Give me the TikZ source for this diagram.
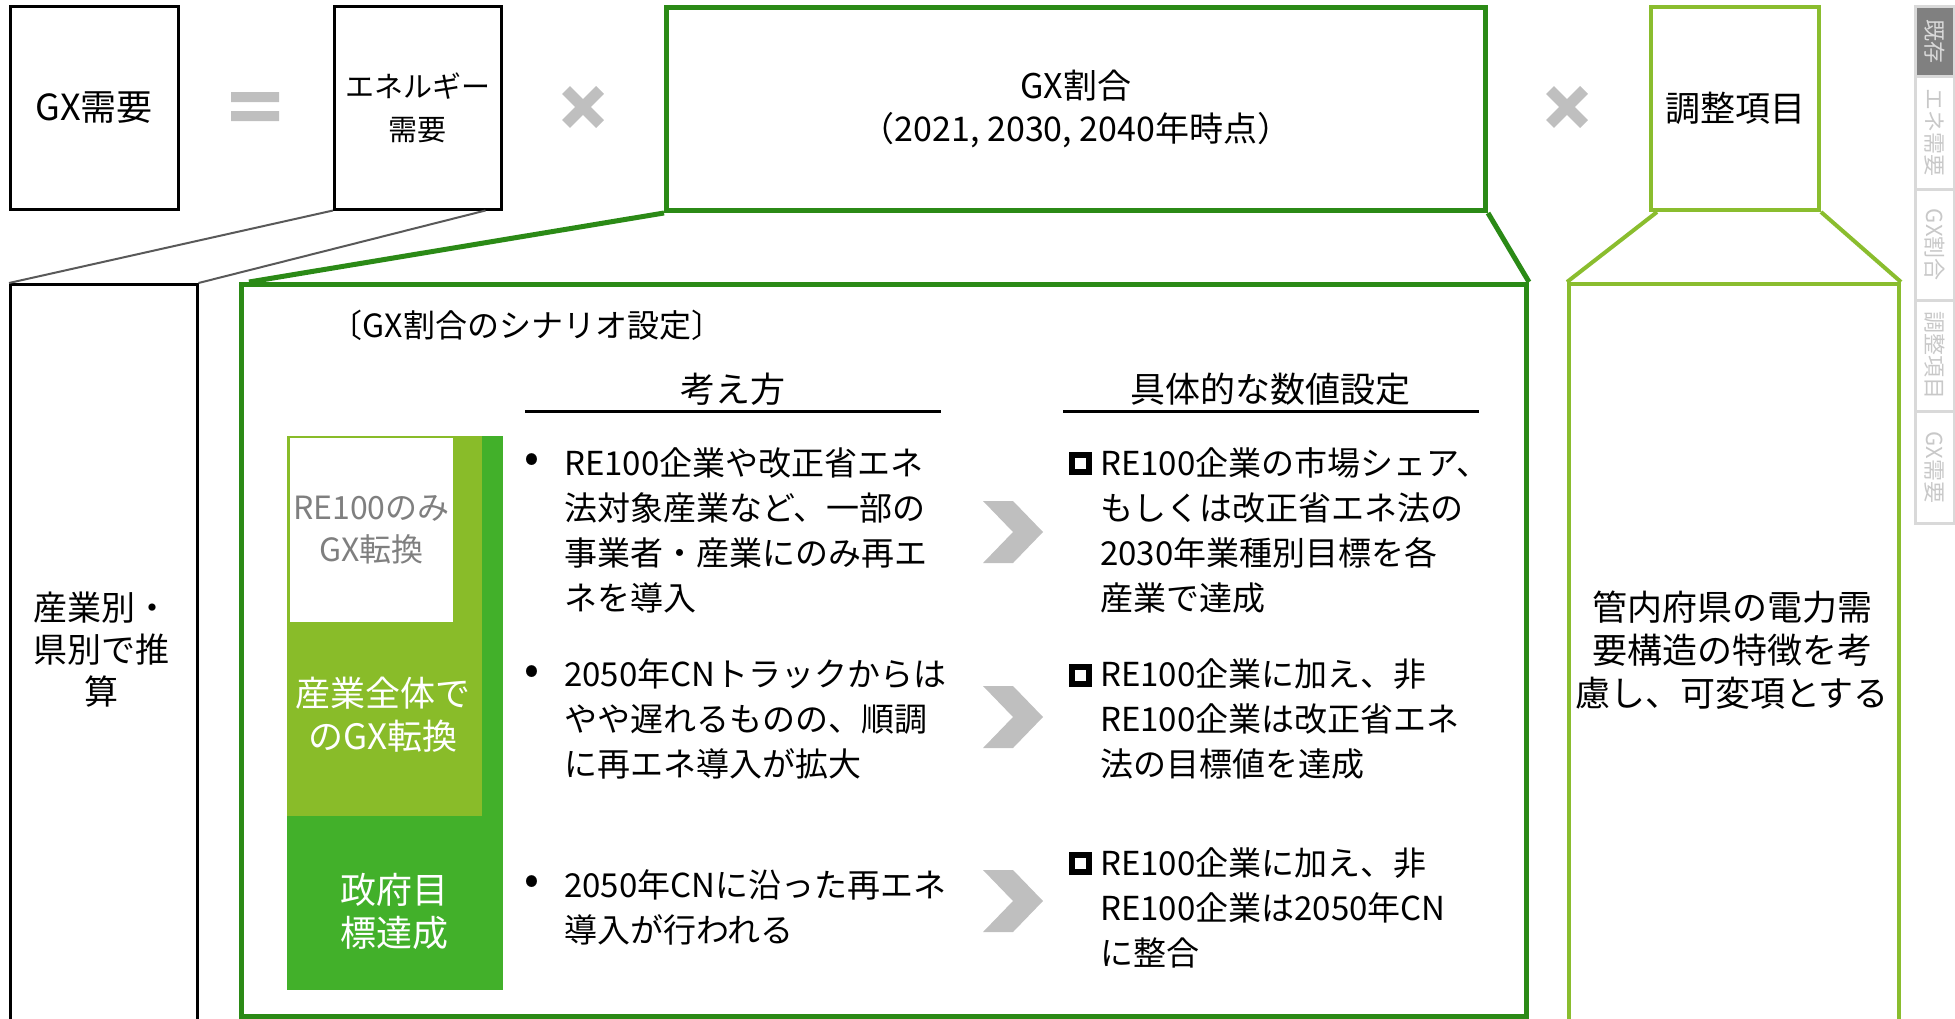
\documentclass[tikz,border=0pt]{standalone}
\usepackage{fontspec}
\setmainfont{Noto Sans CJK JP}
\definecolor{gxg}{RGB}{43,138,22}
\definecolor{ltg}{RGB}{138,189,46}
\definecolor{barlt}{RGB}{137,188,41}
\definecolor{bardk}{RGB}{66,176,42}
\definecolor{markgray}{RGB}{191,191,191}
\definecolor{congray}{RGB}{89,89,89}
\definecolor{tabline}{RGB}{217,217,217}
\definecolor{tabtxt}{RGB}{200,200,200}
\definecolor{tabfill}{RGB}{128,128,128}
\definecolor{regray}{RGB}{127,127,127}
\newcommand{\myfs}[2]{\fontsize{#1}{#2}\selectfont}
\begin{document}
\begin{tikzpicture}[x=1pt,y=-1pt,
  blk/.style={draw=black,line width=2.5pt,inner sep=0pt,anchor=north west},
  gxbox/.style={draw=gxg,line width=5pt,inner sep=0pt,anchor=north west},
  adjbox/.style={draw=ltg,line width=4pt,inner sep=0pt,anchor=north west},
  tabbox/.style={draw=tabline,line width=2.5pt,inner sep=0pt,anchor=north west,minimum width=39pt},
  tablabel/.style={rotate=-90,text=tabtxt,font=\myfs{22}{22},inner sep=0pt},
  bar/.style={inner sep=0pt,anchor=north west},
  body/.style={font=\myfs{33}{45},align=left,anchor=west,inner sep=0pt},
  bul/.style={font=\myfs{44}{45},inner sep=0pt},
  chk/.style={draw=black,line width=6pt,minimum size=17pt,inner sep=0pt},
  xmark/.style={markgray,line width=11pt},
  chev/.style={fill=markgray}]
\path[use as bounding box] (0,0) rectangle (1955,1018);
\clip (0,0) rectangle (1955,1018);

% ---------- top row ----------
\node[blk,minimum width=168pt,minimum height=203pt,font=\myfs{36}{43}] (gxd) at (9,5) {GX需要};
\fill[markgray] (231,92) rectangle (279,102) (231,111) rectangle (279,121);
\node[blk,minimum width=167pt,minimum height=203pt,font=\myfs{29}{43},align=center] (ene) at (333,5) {エネルギー\\需要};
\draw[xmark] (566,90) -- (600,124) (566,124) -- (600,90);
\node[gxbox,minimum width=819pt,minimum height=203pt,font=\myfs{34}{43},align=center] (gxr) at (664,5) {GX割合\\（2021, 2030, 2040年時点）};
\draw[xmark] (1550,90) -- (1584,124) (1550,124) -- (1584,90);
\node[adjbox,minimum width=168pt,minimum height=203pt,font=\myfs{35}{43}] (adj) at (1649,5) {調整項目};

% ---------- tabs ----------
\node[tabbox,minimum height=70pt,fill=tabfill] (t1) at (1914,5) {};
\node[tablabel,text=tabline] (t1t) at (t1.center) {既存};
\node[tabbox,minimum height=113pt] (t2) at (1914,75) {};
\node[tablabel] (t2t) at (t2.center) {エネ需要};
\node[tabbox,minimum height=111pt] (t3) at (1914,188) {};
\node[tablabel] (t3t) at (t3.center) {GX割合};
\node[tabbox,minimum height=111pt] (t4) at (1914,299) {};
\node[tablabel] (t4t) at (t4.center) {調整項目};
\node[tabbox,minimum height=112pt] (t5) at (1914,410) {};
\node[tablabel] (t5t) at (t5.center) {GX需要};

% ---------- lower left ----------
\node[blk,minimum width=187pt,minimum height=760pt] (sang) at (9,283) {};
\node[font=\myfs{34}{42},align=center] (sangt) at (102,650) {産業別・\\県別で推\\算};
\draw[congray,line width=2pt] (ene.south west) -- (sang.north west);
\draw[congray,line width=2pt] ([xshift=-17pt]ene.south east) -- (sang.north east);

% ---------- GX frame ----------
\node[gxbox,minimum width=1285pt,minimum height=732pt] (frame) at (239,282) {};
\draw[gxg,line width=5pt] (gxr.south west) -- ([xshift=10pt]frame.north west);
\draw[gxg,line width=5pt] (gxr.south east) -- (frame.north east);

% ---------- adjustment ----------
\node[adjbox,minimum width=330pt,minimum height=770pt] (adjl) at (1567,282) {};
\draw[ltg,line width=4pt] ([xshift=8pt]adj.south west) -- (adjl.north west);
\draw[ltg,line width=4pt] (adj.south east) -- (adjl.north east);
\node[font=\myfs{35}{43},align=center] (adjt) at (1732,650) {管内府県の電力需\\要構造の特徴を考\\慮し、可変項とする};

% ---------- inside frame ----------
\node[font=\myfs{32}{32}] (title) at (527,325) {〔GX割合のシナリオ設定〕};
\node[font=\myfs{35}{35}] (h1) at (733,389) {考え方};
\node[font=\myfs{35}{35}] (h2) at (1270,389) {具体的な数値設定};
\draw[black,line width=3pt] (525,411) -- (941,411);
\draw[black,line width=3pt] (1063,411) -- (1479,411);

% stacked bars
\node[bar,fill=bardk,minimum width=216pt,minimum height=554pt] (bdk) at (287,436) {};
\node[bar,fill=barlt,minimum width=195pt,minimum height=380pt] (blt) at (287,436) {};
\node[bar,fill=white,minimum width=163.5pt,minimum height=184pt,text=regray,font=\myfs{32}{42},align=center] (bw) at (289.5,438) {RE100のみ\\GX転換};
\node[text=white,font=\myfs{35}{43},align=center] (bltt) at (383,715) {産業全体で\\のGX転換};
\node[text=white,font=\myfs{36}{43},align=center] (bdkt) at (394,911) {政府目\\標達成};

% left column
\node[bul] (b1) at (532,463) {•};
\node[body] (l1) at (564,530) {RE100企業や改正省エネ\\法対象産業など、一部の\\事業者・産業にのみ再エ\\ネを導入};
\node[bul] (b2) at (532,675) {•};
\node[body] (l2) at (564,719) {2050年CNトラックからは\\やや遅れるものの、順調\\に再エネ導入が拡大};
\node[bul] (b3) at (532,885) {•};
\node[body] (l3) at (564,907) {2050年CNに沿った再エネ\\導入が行われる};

% chevrons
\foreach \cy in {532,717,901}{
  \fill[chev] (983,\cy-31) -- (1013,\cy-31) -- (1043,\cy) -- (1013,\cy+31) -- (983,\cy+31) -- (1013,\cy) -- cycle;
}

% right column
\node[chk] (c1) at (1080,463) {};
\node[body] (r1) at (1100,530) {RE100企業の市場シェア、\\もしくは改正省エネ法の\\2030年業種別目標を各\\産業で達成};
\node[chk] (c2) at (1080,675) {};
\node[body] (r2) at (1100,719) {RE100企業に加え、非\\RE100企業は改正省エネ\\法の目標値を達成};
\node[chk] (c3) at (1080,863) {};
\node[body] (r3) at (1100,908) {RE100企業に加え、非\\RE100企業は2050年CN\\に整合};
\end{tikzpicture}
\end{document}
